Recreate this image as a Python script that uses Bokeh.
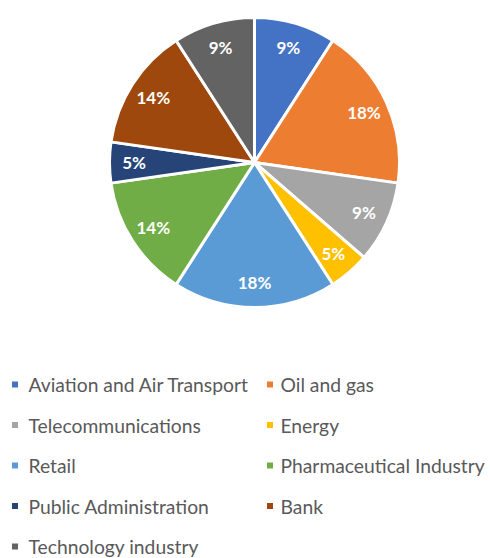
import math
from bokeh.plotting import figure
from bokeh.models import Range1d, ColumnDataSource
from bokeh.core.properties import value
from bokeh.embed import file_html
from bokeh.resources import INLINE

categories = ["Aviation and Air Transport", "Oil and gas", "Telecommunications", "Energy",
              "Retail", "Pharmaceutical Industry", "Public Administration", "Bank",
              "Technology industry"]
counts = [2, 4, 2, 1, 4, 3, 1, 3, 2]
colors = ["#4472C4", "#ED7D31", "#A5A5A5", "#FFC000", "#5B9BD5", "#70AD47",
          "#264478", "#9E480E", "#636363"]

W, H = 490, 558

def sy(y):  # screen y -> data y
    return H - y

p = figure(width=W, height=H, output_backend="svg", toolbar_location=None,
           x_range=Range1d(0, W), y_range=Range1d(0, H),
           min_border=0)
p.axis.visible = False
p.grid.visible = False
p.outline_line_color = None
p.background_fill_color = "white"
p.border_fill_color = "white"

cx, cy, R = 254, sy(162), 145
total = sum(counts)
starts, ends, lx, ly, labels = [], [], [], [], []
acc = 0
for c in counts:
    a0 = acc / total * 2 * math.pi
    acc += c
    a1 = acc / total * 2 * math.pi
    starts.append(math.pi / 2 - a0)
    ends.append(math.pi / 2 - a1)
    mid = (a0 + a1) / 2
    r = 0.83 * R
    lx.append(cx + r * math.sin(mid))
    ly.append(cy + r * math.cos(mid))
    labels.append(f"{round(c / total * 100)}%")

src = ColumnDataSource(dict(start=starts, end=ends, color=colors, lx=lx, ly=ly, label=labels))
p.wedge(x=cx, y=cy, radius=R, start_angle="start", end_angle="end", direction="clock",
        fill_color="color", line_color="white", line_width=3, source=src)
p.text(x="lx", y="ly", text="label", source=src, text_color="white",
       text_font=value("Lato"), text_font_style="bold", text_font_size="17px",
       text_align="center", text_baseline="middle")

mx, my, tx, ty = [], [], [], []
for i, name in enumerate(categories):
    col, row = i % 2, i // 2
    yy = sy(384 + 40.5 * row)
    mx.append([14.5, 269.5][col])
    my.append(yy)
    tx.append([28, 280][col])
    ty.append(yy)
lsrc = ColumnDataSource(dict(mx=mx, my=my, tx=tx, ty=ty, name=categories, color=colors))
p.scatter(x="mx", y="my", marker="square", size=6, fill_color="color", line_color=None, source=lsrc)
p.text(x="tx", y="ty", text="name", source=lsrc, text_color="#595959",
       text_font=value("Lato"), text_font_size="19.3px", text_align="left", text_baseline="middle")

open("out.html", "w").write(file_html(p, INLINE))
